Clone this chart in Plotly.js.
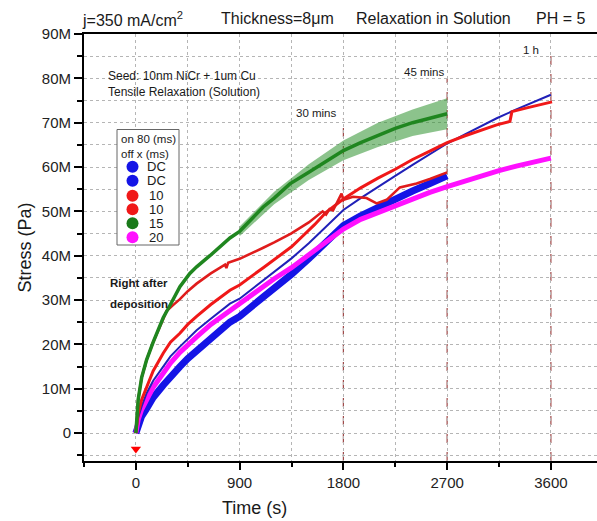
<!DOCTYPE html>
<html>
<head>
<meta charset="utf-8">
<script src="https://cdn.plot.ly/plotly-3.0.1.min.js"></script>
<style>html,body{margin:0;padding:0;background:#fff;}</style>
</head>
<body>
<div id="chart" style="width:597px;height:521px;"></div>
<script>
// ---------------- data (time in s, stress in MPa) ----------------
const seriesNames = ['DC', 'DC', '10', '10', '15', '20'];

const dc1Time   = [0,20,50,93,150,237,300,382,450,527,650,816,900,1105,1200,1350,1500,1650,1800,1950,2100,2250,2400,2550,2700];
const dc1Stress = [0,2,3.8,5.5,8,10.8,12.8,15,16.8,18.7,21.3,25,26.3,30.7,32.5,35.8,39.3,43,46.8,49,51,52.8,54.6,56.3,58];

const dc2Time   = [0,20,50,93,150,237,300,382,450,527,650,816,900,1105,1200,1350,1500,1650,1800,1950,2100,2250,2400,2550,2700,2850,3000,3130,3300,3450,3600];
const dc2Stress = [0,3.5,6,9,11.8,15,17.3,19.5,21.3,23.2,25.8,29.2,30.3,34.5,36.3,39.4,42.8,46.5,50.3,53,55.6,58,60.5,63,65.3,67.3,69.3,71,73,74.7,76.3];

const off10aTime   = [0,20,50,93,150,237,300,382,450,527,650,816,900,1105,1200,1350,1450,1550,1650,1800,1950,2100,2250,2400,2550,2700,2850,3000,3130,3245,3262,3400,3500,3610];
const off10aStress = [0,4.5,7.5,10.5,14,18,20.5,22.5,24.5,26.3,29,32.2,33.4,37.3,39.2,42,44.5,47,49.8,52.8,55.3,57.5,59.5,61.7,63.6,65.5,67,68.4,69.5,70.3,72.5,73.4,74,74.7];

const off10bTime   = [0,20,50,93,150,237,266,320,382,450,527,650,773,785,800,900,1000,1105,1200,1345,1500,1620,1650,1680,1710,1784,1800,1884,2001,2088,2175,2290,2435,2550,2700];
const off10bStress = [0,7.5,12.5,16.5,20.5,26,27.5,28.8,30.2,32,33.7,36,38,37.2,38.4,39.3,40.6,41.8,43,45,47.5,50,49.3,50.5,50.2,54,52.6,53.3,53,51.8,52.6,55.4,56.3,57.3,58.8];

const off15Time   = [0,20,50,93,150,237,300,382,468,527,642,816,900,1000,1105,1200,1336,1500,1650,1800,1950,2100,2250,2400,2550,2700];
const off15Stress = [0,7.5,12.5,16.5,20.5,26,29,33,36,37.5,40,44,45.5,48.3,51,53,56.2,58.8,61.3,63.7,65.5,67.2,68.7,70,71.1,72];
// spread of the green scatter cloud
const off15CloudTime = [900,1200,1500,1800,2100,2400,2700];
const off15CloudHigh = [46.6,54.4,60.6,66,70,73,75.5];
const off15CloudLow  = [44.4,51.6,57.1,61.5,64.5,67,68.5];

const off20Time   = [0,20,50,93,150,237,300,382,450,527,650,816,900,1105,1200,1350,1500,1650,1800,1950,2100,2250,2400,2550,2700,2850,3000,3150,3300,3450,3600];
const off20Stress = [0,3,5.3,7.5,10.3,13.5,15.8,18.2,20,21.7,24.5,27.7,29,33.2,34.8,37.3,40.3,43.3,46,48.2,49.8,51.2,52.8,54.3,55.6,56.9,58,59.2,60.2,61.1,62];

const depositionMarkTime = [0];
const depositionMarkStress = [-3.6];

const milestoneTime   = [1800, 2700, 3600];
const milestoneTop    = [71, 80, 86];
const milestoneLabels = ['30 mins', '45 mins', '1 h'];
const milestoneLabelY = [72.2, 81.4, 86.4];

const xTickVals = [0, 900, 1800, 2700, 3600];

// ---------------- helpers ----------------
const MPa = a => a.map(v => v * 1e6);
const PL = 84, PR = 597, PT = 34, PB = 461;
const pxX = v => (v - PL) / (PR - PL);
const pxY = v => (PB - v) / (PB - PT);

const colors = { blue: '#1414e6', blueThin: '#2020b8', red: '#f01818', red2: '#e01c1c', green: '#1f861f', magenta: '#ff10ff' };
const FONT = 'Liberation Sans, Arial, Helvetica, sans-serif';

const traces = [
  { x: off15CloudTime, y: MPa(off15CloudLow), mode: 'lines', line: { width: 0, color: colors.green }, hoverinfo: 'skip', showlegend: false },
  { x: off15CloudTime, y: MPa(off15CloudHigh), mode: 'lines', fill: 'tonexty', fillcolor: 'rgba(45,145,45,0.55)', line: { width: 0, color: colors.green }, hoverinfo: 'skip', showlegend: false },
  { name: seriesNames[0], x: dc1Time, y: MPa(dc1Stress), mode: 'lines', line: { color: colors.blue, width: 7 }, showlegend: false },
  { name: seriesNames[5], x: off20Time, y: MPa(off20Stress), mode: 'lines', line: { color: colors.magenta, width: 5 }, showlegend: false },
  { name: seriesNames[1], x: dc2Time, y: MPa(dc2Stress), mode: 'lines', line: { color: colors.blueThin, width: 2 }, showlegend: false },
  { name: seriesNames[2], x: off10aTime, y: MPa(off10aStress), mode: 'lines', line: { color: colors.red, width: 3 }, showlegend: false },
  { name: seriesNames[3], x: off10bTime, y: MPa(off10bStress), mode: 'lines', line: { color: colors.red2, width: 2.6 }, showlegend: false },
  { name: seriesNames[4], x: off15Time, y: MPa(off15Stress), mode: 'lines', line: { color: colors.green, width: 3.5 }, showlegend: false },
  { x: depositionMarkTime, y: MPa(depositionMarkStress), mode: 'markers', marker: { symbol: 'triangle-down', size: 9, color: '#ff0000' }, showlegend: false }
];

const shapes = milestoneTime.map((t, i) => ({
  type: 'line', xref: 'x', yref: 'y', x0: t, x1: t, y0: -6.3e6, y1: milestoneTop[i] * 1e6,
  line: { color: '#a04848', width: 1.2, dash: 'dash' }, layer: 'below'
}));

// legend box (drawn like the original Origin legend)
const legendColors = [colors.blue, colors.blue, colors.red, colors.red, '#1a7a1a', colors.magenta];
const legendY = [166.7, 180.7, 195.7, 209.3, 223.3, 237.3];
shapes.push({ type: 'rect', xref: 'paper', yref: 'paper', x0: pxX(117), x1: pxX(179), y0: pxY(245), y1: pxY(129.5), line: { color: '#666', width: 1 }, fillcolor: '#fff', layer: 'above' });
legendY.forEach((yy, i) => shapes.push({ type: 'circle', xref: 'paper', yref: 'paper', x0: pxX(126.5), x1: pxX(138.5), y0: pxY(yy + 6), y1: pxY(yy - 6), line: { width: 0 }, fillcolor: legendColors[i], layer: 'above' }));

const ann = [];
const titleParts = [['j=350 mA/cm<sup>2</sup>', 80], ['Thickness=8μm', 219], ['Relaxation in Solution', 354], ['PH = 5', 534]];
titleParts.forEach(([t, x]) => ann.push({ text: t, xref: 'paper', yref: 'paper', x: pxX(x), y: pxY(19), xanchor: 'left', yanchor: 'middle', showarrow: false, font: { size: 16, color: '#1a1a1a' } }));
ann.push({ text: 'Seed: 10nm NiCr + 1um Cu<br>Tensile Relaxation (Solution)', xref: 'paper', yref: 'paper', x: pxX(106), y: pxY(67), xanchor: 'left', yanchor: 'top', align: 'left', showarrow: false, font: { size: 12, color: '#1a1a1a' } });
ann.push({ text: '<b>Right after</b>', xref: 'paper', yref: 'paper', x: pxX(139), y: pxY(283), xanchor: 'center', yanchor: 'middle', showarrow: false, font: { size: 11.5, color: '#1a1a1a' } });
ann.push({ text: '<b>deposition</b>', xref: 'paper', yref: 'paper', x: pxX(139), y: pxY(304), xanchor: 'center', yanchor: 'middle', showarrow: false, font: { size: 11.5, color: '#1a1a1a' } });
const milestoneShift = [-4, 0, -10];
milestoneTime.forEach((t, i) => ann.push({ text: milestoneLabels[i], xref: 'x', yref: 'y', x: t, y: milestoneLabelY[i] * 1e6, xanchor: 'right', yanchor: 'middle', xshift: milestoneShift[i], showarrow: false, font: { size: 11.5, color: '#1a1a1a' } }));
ann.push({ text: 'on 80 (ms)<br>off x (ms)', xref: 'paper', yref: 'paper', x: pxX(119), y: pxY(131), xanchor: 'left', yanchor: 'top', align: 'left', showarrow: false, font: { size: 11.5, color: '#1a1a1a' } });
legendY.forEach((yy, i) => ann.push({ text: seriesNames[i], xref: 'paper', yref: 'paper', x: pxX(156), y: pxY(yy), xanchor: 'center', yanchor: 'middle', showarrow: false, font: { size: 13, color: '#1a1a1a' } }));
ann.push({ text: 'Time (s)', xref: 'paper', yref: 'paper', x: pxX(254), y: pxY(508), xanchor: 'center', yanchor: 'middle', showarrow: false, font: { size: 18, color: '#1a1a1a' } });

const gridStyle = { gridcolor: '#b5b5b5', griddash: 'dot', gridwidth: 1 };

const layout = {
  width: 597, height: 521,
  margin: { l: PL, r: 597 - PR, t: PT, b: 521 - PB, pad: 0 },
  paper_bgcolor: '#fff', plot_bgcolor: '#fff',
  font: { family: FONT, color: '#1a1a1a' },
  showlegend: false,
  xaxis: {
    range: [-450, 4000], tickmode: 'array', tickvals: xTickVals,
    ticks: 'outside', ticklen: 7, tickwidth: 2, tickcolor: '#000',
    showline: true, linewidth: 2, linecolor: '#000', mirror: true,
    showgrid: true, ...gridStyle, zeroline: false,
    tickfont: { size: 15, color: '#222' },
    minor: { tick0: 0, dtick: 450, ticks: 'outside', ticklen: 4, tickwidth: 2, tickcolor: '#000', showgrid: true, ...gridStyle }
  },
  yaxis: {
    range: [-6.3e6, 90e6], tick0: 0, dtick: 10e6, tickformat: '~s',
    ticks: 'outside', ticklen: 8, tickwidth: 2, tickcolor: '#000',
    showline: true, linewidth: 2, linecolor: '#000',
    showgrid: true, ...gridStyle, zeroline: false,
    tickfont: { size: 15, color: '#222' },
    title: { text: 'Stress (Pa)', font: { size: 18, color: '#1a1a1a' }, standoff: 6 },
    minor: { tick0: 0, dtick: 5e6, ticks: 'outside', ticklen: 5, tickwidth: 2, tickcolor: '#000', showgrid: true, ...gridStyle }
  },
  shapes: shapes,
  annotations: ann
};

Plotly.newPlot('chart', traces, layout, { displayModeBar: false, staticPlot: true });
</script>
</body>
</html>
